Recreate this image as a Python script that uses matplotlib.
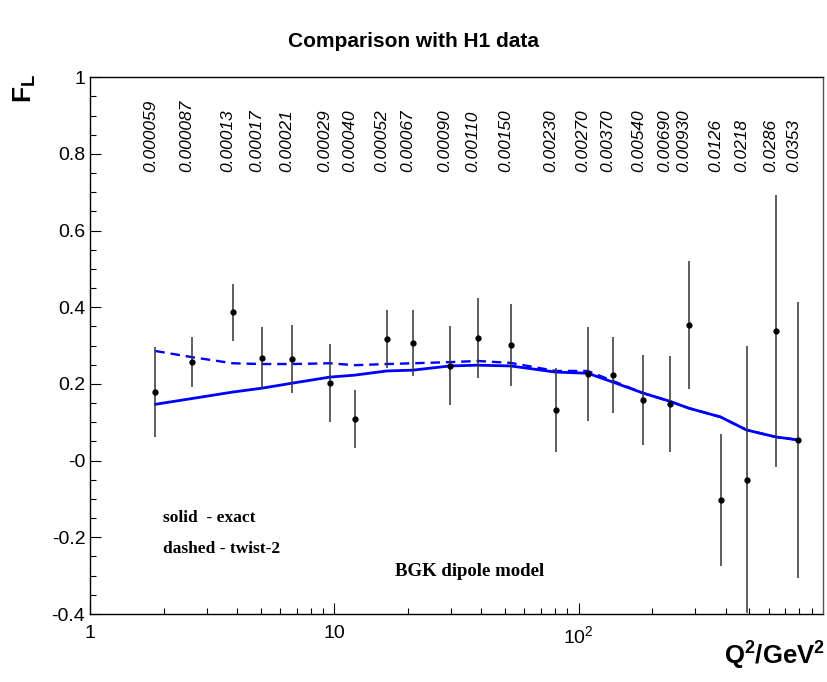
import matplotlib
matplotlib.use('Agg')
import matplotlib.pyplot as plt
import numpy as np
from matplotlib.ticker import FixedLocator, FixedFormatter, LogLocator, NullFormatter

plt.rcParams['font.family'] = ['Liberation Sans', 'DejaVu Sans']
plt.rcParams['mathtext.default'] = 'regular'

# H1 F_L data
q2 = [1.85, 2.61, 3.84, 5.05, 6.70, 9.59, 12.1, 16.4, 20.9, 29.7, 38.6,
      52.7, 80.5, 109, 138, 184, 236, 282, 381, 487, 640, 794]
fl = [0.179, 0.257, 0.387, 0.267, 0.265, 0.202, 0.109, 0.317, 0.307, 0.247, 0.320,
      0.301, 0.132, 0.226, 0.223, 0.158, 0.147, 0.354, -0.103, -0.050, 0.338, 0.054]
fl_err = [0.118, 0.066, 0.074, 0.081, 0.089, 0.101, 0.076, 0.076, 0.085, 0.103, 0.105,
          0.107, 0.110, 0.123, 0.100, 0.118, 0.125, 0.166, 0.172, 0.348, 0.355, 0.361]
x_labels = ['0.000059', '0.000087', '0.00013', '0.00017', '0.00021', '0.00029',
            '0.00040', '0.00052', '0.00067', '0.00090', '0.00110', '0.00150',
            '0.00230', '0.00270', '0.00370', '0.00540', '0.00690', '0.00930',
            '0.0126', '0.0218', '0.0286', '0.0353']

# BGK dipole model curves
exact = [0.147, 0.162, 0.179, 0.189, 0.202, 0.218, 0.223, 0.234, 0.236, 0.247, 0.249,
         0.247, 0.231, 0.228, 0.205, 0.176, 0.155, 0.137, 0.114, 0.080, 0.062, 0.054]
twist2 = [0.286, 0.270, 0.254, 0.252, 0.252, 0.254, 0.249, 0.252, 0.254, 0.257, 0.260,
          0.255, 0.234, 0.234, 0.208, 0.176, 0.155, 0.137, 0.114, 0.080, 0.062, 0.054]

fig = plt.figure(figsize=(8.27, 6.82), dpi=100)
ax = fig.add_axes([0.109, 0.0997, 0.886, 0.787])

ax.plot(q2, exact, '-', color='#0000ff', lw=2.0)
ax.plot(q2, twist2, '--', color='#0000ff', lw=1.7, dashes=(4, 2.5))
ax.errorbar(q2, fl, yerr=fl_err, fmt='o', color='black', ms=3.5,
            ecolor='#333333', elinewidth=1.1, capsize=0)

ax.set_xscale('log')
ax.set_xlim(1, 1000)
ax.set_ylim(-0.4, 1.0)

# x values written above each point
for q, lab in zip(q2, x_labels):
    ax.text(q * 0.955, 0.752, lab, rotation=90, ha='center', va='bottom',
            fontsize=12.5, style='italic')

ax.xaxis.set_major_locator(FixedLocator([1, 10, 100]))
ax.xaxis.set_major_formatter(FixedFormatter(['1', '10', r'$10^2$']))
ax.xaxis.set_minor_locator(LogLocator(base=10, subs=np.arange(2, 10)))
ax.xaxis.set_minor_formatter(NullFormatter())

yt = [-0.4, -0.2, 0, 0.2, 0.4, 0.6, 0.8, 1.0]
ax.yaxis.set_major_locator(FixedLocator(yt))
ax.yaxis.set_major_formatter(FixedFormatter(['-0.4', '-0.2', '-0', '0.2', '0.4', '0.6', '0.8', '1']))
ax.yaxis.set_minor_locator(FixedLocator(np.arange(-0.4, 1.001, 0.05)))

ax.tick_params(which='both', direction='in', top=False, right=False, labelsize=14)
ax.tick_params(which='major', length=8, width=0.8)
ax.tick_params(which='minor', length=4, width=0.8)
ax.tick_params(axis='x', pad=8)
for s in ax.spines.values():
    s.set_linewidth(1.0)
ax.spines['right'].set_color('#555555')

fig.text(0.5, 0.931, 'Comparison with H1 data', ha='center', fontsize=15, fontweight='bold')
fig.text(0.03, 0.87, r'$F_L$', rotation=90, ha='center', va='center',
         fontsize=19, fontweight='bold')
fig.text(0.998, 0.015, r'$Q^2/GeV^2$', ha='right', va='bottom', fontsize=18.5, fontweight='bold')

serif = ['Liberation Serif', 'DejaVu Serif']
ax.text(1.98, -0.16, 'solid  - exact', family=serif, fontweight='bold', fontsize=12.5)
ax.text(1.98, -0.24, 'dashed - twist-2', family=serif, fontweight='bold', fontsize=12.5)
ax.text(17.7, -0.30, 'BGK dipole model', family=serif, fontweight='bold', fontsize=13.5)

fig.savefig('out.png', dpi=100)
